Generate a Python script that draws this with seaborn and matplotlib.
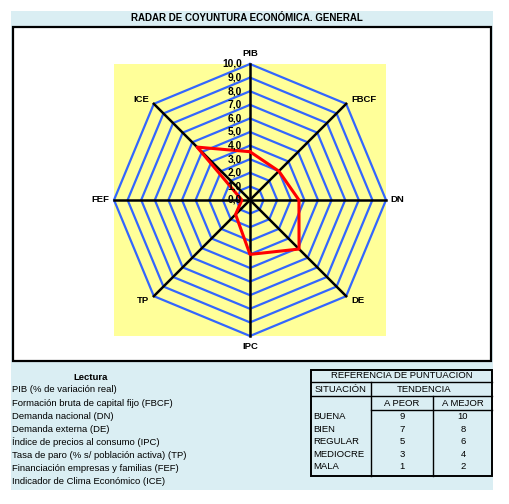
import numpy as np
import pandas as pd
import matplotlib
matplotlib.use("Agg")
import matplotlib.pyplot as plt
from matplotlib.patches import Rectangle
import seaborn as sns

plt.rcParams['font.family'] = ['Liberation Sans', 'DejaVu Sans']

# ---------------- data ----------------
categories = ["PIB", "FBCF", "DN", "DE", "IPC", "TP", "FEF", "ICE"]
values = [3.55, 3.0, 3.6, 5.1, 4.0, 1.5, 0.6, 5.5]
ring_levels = [1, 2, 3, 4, 5, 6, 7, 8, 9, 10]
tick_values = [0, 1, 2, 3, 4, 5, 6, 7, 8, 9, 10]
tick_labels = ["0,0", "1,0", "2,0", "3,0", "4,0", "5,0", "6,0", "7,0", "8,0", "9,0", "10,0"]
title = "RADAR DE COYUNTURA ECONÓMICA. GENERAL"
legend_title = "Lectura"
legend_items = [
    "PIB (% de variación real)",
    "Formación bruta de capital fijo (FBCF)",
    "Demanda nacional (DN)",
    "Demanda externa (DE)",
    "Índice de precios al consumo (IPC)",
    "Tasa de paro (% s/ población activa) (TP)",
    "Financiación empresas y familias (FEF)",
    "Indicador de Clima Económico (ICE)",
]
table_title = "REFERENCIA DE PUNTUACIÓN"
table_situacion = ["BUENA", "BIEN", "REGULAR", "MEDIOCRE", "MALA"]
table_peor = [9, 7, 5, 3, 1]
table_mejor = [10, 8, 6, 4, 2]

W, H = 510, 504
fig = plt.figure(figsize=(W / 100, H / 100), dpi=100)
fig.patch.set_facecolor("white")

# background axes in pixel coordinates
bg = fig.add_axes([0, 0, 1, 1])
bg.set_xlim(0, W)
bg.set_ylim(H, 0)
bg.axis("off")

LB = "#DAEEF3"
bg.add_patch(Rectangle((11, 11), 482, 479, facecolor=LB, edgecolor="none"))
bg.add_patch(Rectangle((13.5, 26.5), 477.5, 334, facecolor="white", edgecolor="black", lw=1.6))
bg.text(247, 18, title, ha="center", va="center", fontsize=7, fontweight="bold")

# legend text
fs = 6.8
bg.text(91, 377, legend_title, ha="center", va="center", fontsize=fs, fontweight="bold")
for i, t in enumerate(legend_items):
    bg.text(12, 390 + i * 13.1, t, ha="left", va="center", fontsize=fs)

# table
tl, tr, tt, tb = 311.5, 492, 369.5, 475.5
lw = 1.0
bg.add_patch(Rectangle((tl, tt), tr - tl, tb - tt, facecolor="none", edgecolor="black", lw=1.4))
bg.plot([tl, tr], [382, 382], color="black", lw=lw)
bg.plot([tl, tr], [396, 396], color="black", lw=lw)
bg.plot([371, tr], [409.5, 409.5], color="black", lw=lw)
bg.plot([371, 371], [382, tb], color="black", lw=lw)
bg.plot([433, 433], [396, tb], color="black", lw=lw)
bg.text(402, 376, table_title, ha="center", va="center", fontsize=fs)
bg.text(341, 389.5, "SITUACIÓN", ha="center", va="center", fontsize=fs)
bg.text(424, 389.5, "TENDENCIA", ha="center", va="center", fontsize=fs)
bg.text(402, 403, "A PEOR", ha="center", va="center", fontsize=fs)
bg.text(463, 403, "A MEJOR", ha="center", va="center", fontsize=fs)
for i, (s, p, m) in enumerate(zip(table_situacion, table_peor, table_mejor)):
    y = 416.5 + i * 12.6
    bg.text(313.5, y, s, ha="left", va="center", fontsize=fs)
    bg.text(402, y, str(p), ha="center", va="center", fontsize=fs)
    bg.text(463, y, str(m), ha="center", va="center", fontsize=fs)

# radar axes
cx, cy, R = 250, 200, 136
ax = fig.add_axes([(cx - R) / W, 1 - (cy + R) / H, 2 * R / W, 2 * R / H])
ax.set_facecolor("#FFFF99")
ax.set_xlim(-10, 10)
ax.set_ylim(-10, 10)
ax.set_xticks([])
ax.set_yticks([])
for s in ax.spines.values():
    s.set_visible(False)

n = len(categories)
angles = np.deg2rad(90 - 360 / n * np.arange(n))
ca, sa = np.cos(angles), np.sin(angles)

GRID = "#3366FF"
for lv in ring_levels:
    xs = np.append(lv * ca, lv * ca[0])
    ys = np.append(lv * sa, lv * sa[0])
    ax.plot(xs, ys, color=GRID, lw=1.6, clip_on=False, zorder=2, solid_joinstyle="miter")

for c, s in zip(ca, sa):
    ax.plot([0, 10 * c], [0, 10 * s], color="black", lw=1.8, clip_on=False, zorder=3)

vals = np.array(values)
df = pd.DataFrame({
    "x": np.append(vals * ca, vals[0] * ca[0]),
    "y": np.append(vals * sa, vals[0] * sa[0]),
    "order": np.arange(n + 1),
})
sns.lineplot(data=df, x="x", y="y", sort=False, estimator=None, color="#FF0000",
             lw=2.2, ax=ax, zorder=4, clip_on=False)
ax.set_xlabel("")
ax.set_ylabel("")
ax.set_xlim(-10, 10)
ax.set_ylim(-10, 10)

for v, lab in zip(tick_values, tick_labels):
    ax.text(-0.6, v, lab, ha="right", va="center", fontsize=7.4, fontweight="bold", zorder=5)

for c, s, lab in zip(ca, sa, categories):
    if abs(c) < 0.1:
        ax.text(0, 10.45 * np.sign(s), lab, ha="center", va="bottom" if s > 0 else "top",
                fontsize=6.8, fontweight="bold", clip_on=False)
    elif abs(s) < 0.1:
        ax.text(10.35 * np.sign(c), 0, lab, ha="left" if c > 0 else "right", va="center",
                fontsize=6.8, fontweight="bold", clip_on=False)
    else:
        ax.text(10 * c + 0.35 * np.sign(c), 10 * s + 0.3 * np.sign(s), lab,
                ha="left" if c > 0 else "right", va="center",
                fontsize=6.8, fontweight="bold", clip_on=False)

fig.savefig("out.png", dpi=100, facecolor=fig.get_facecolor())
